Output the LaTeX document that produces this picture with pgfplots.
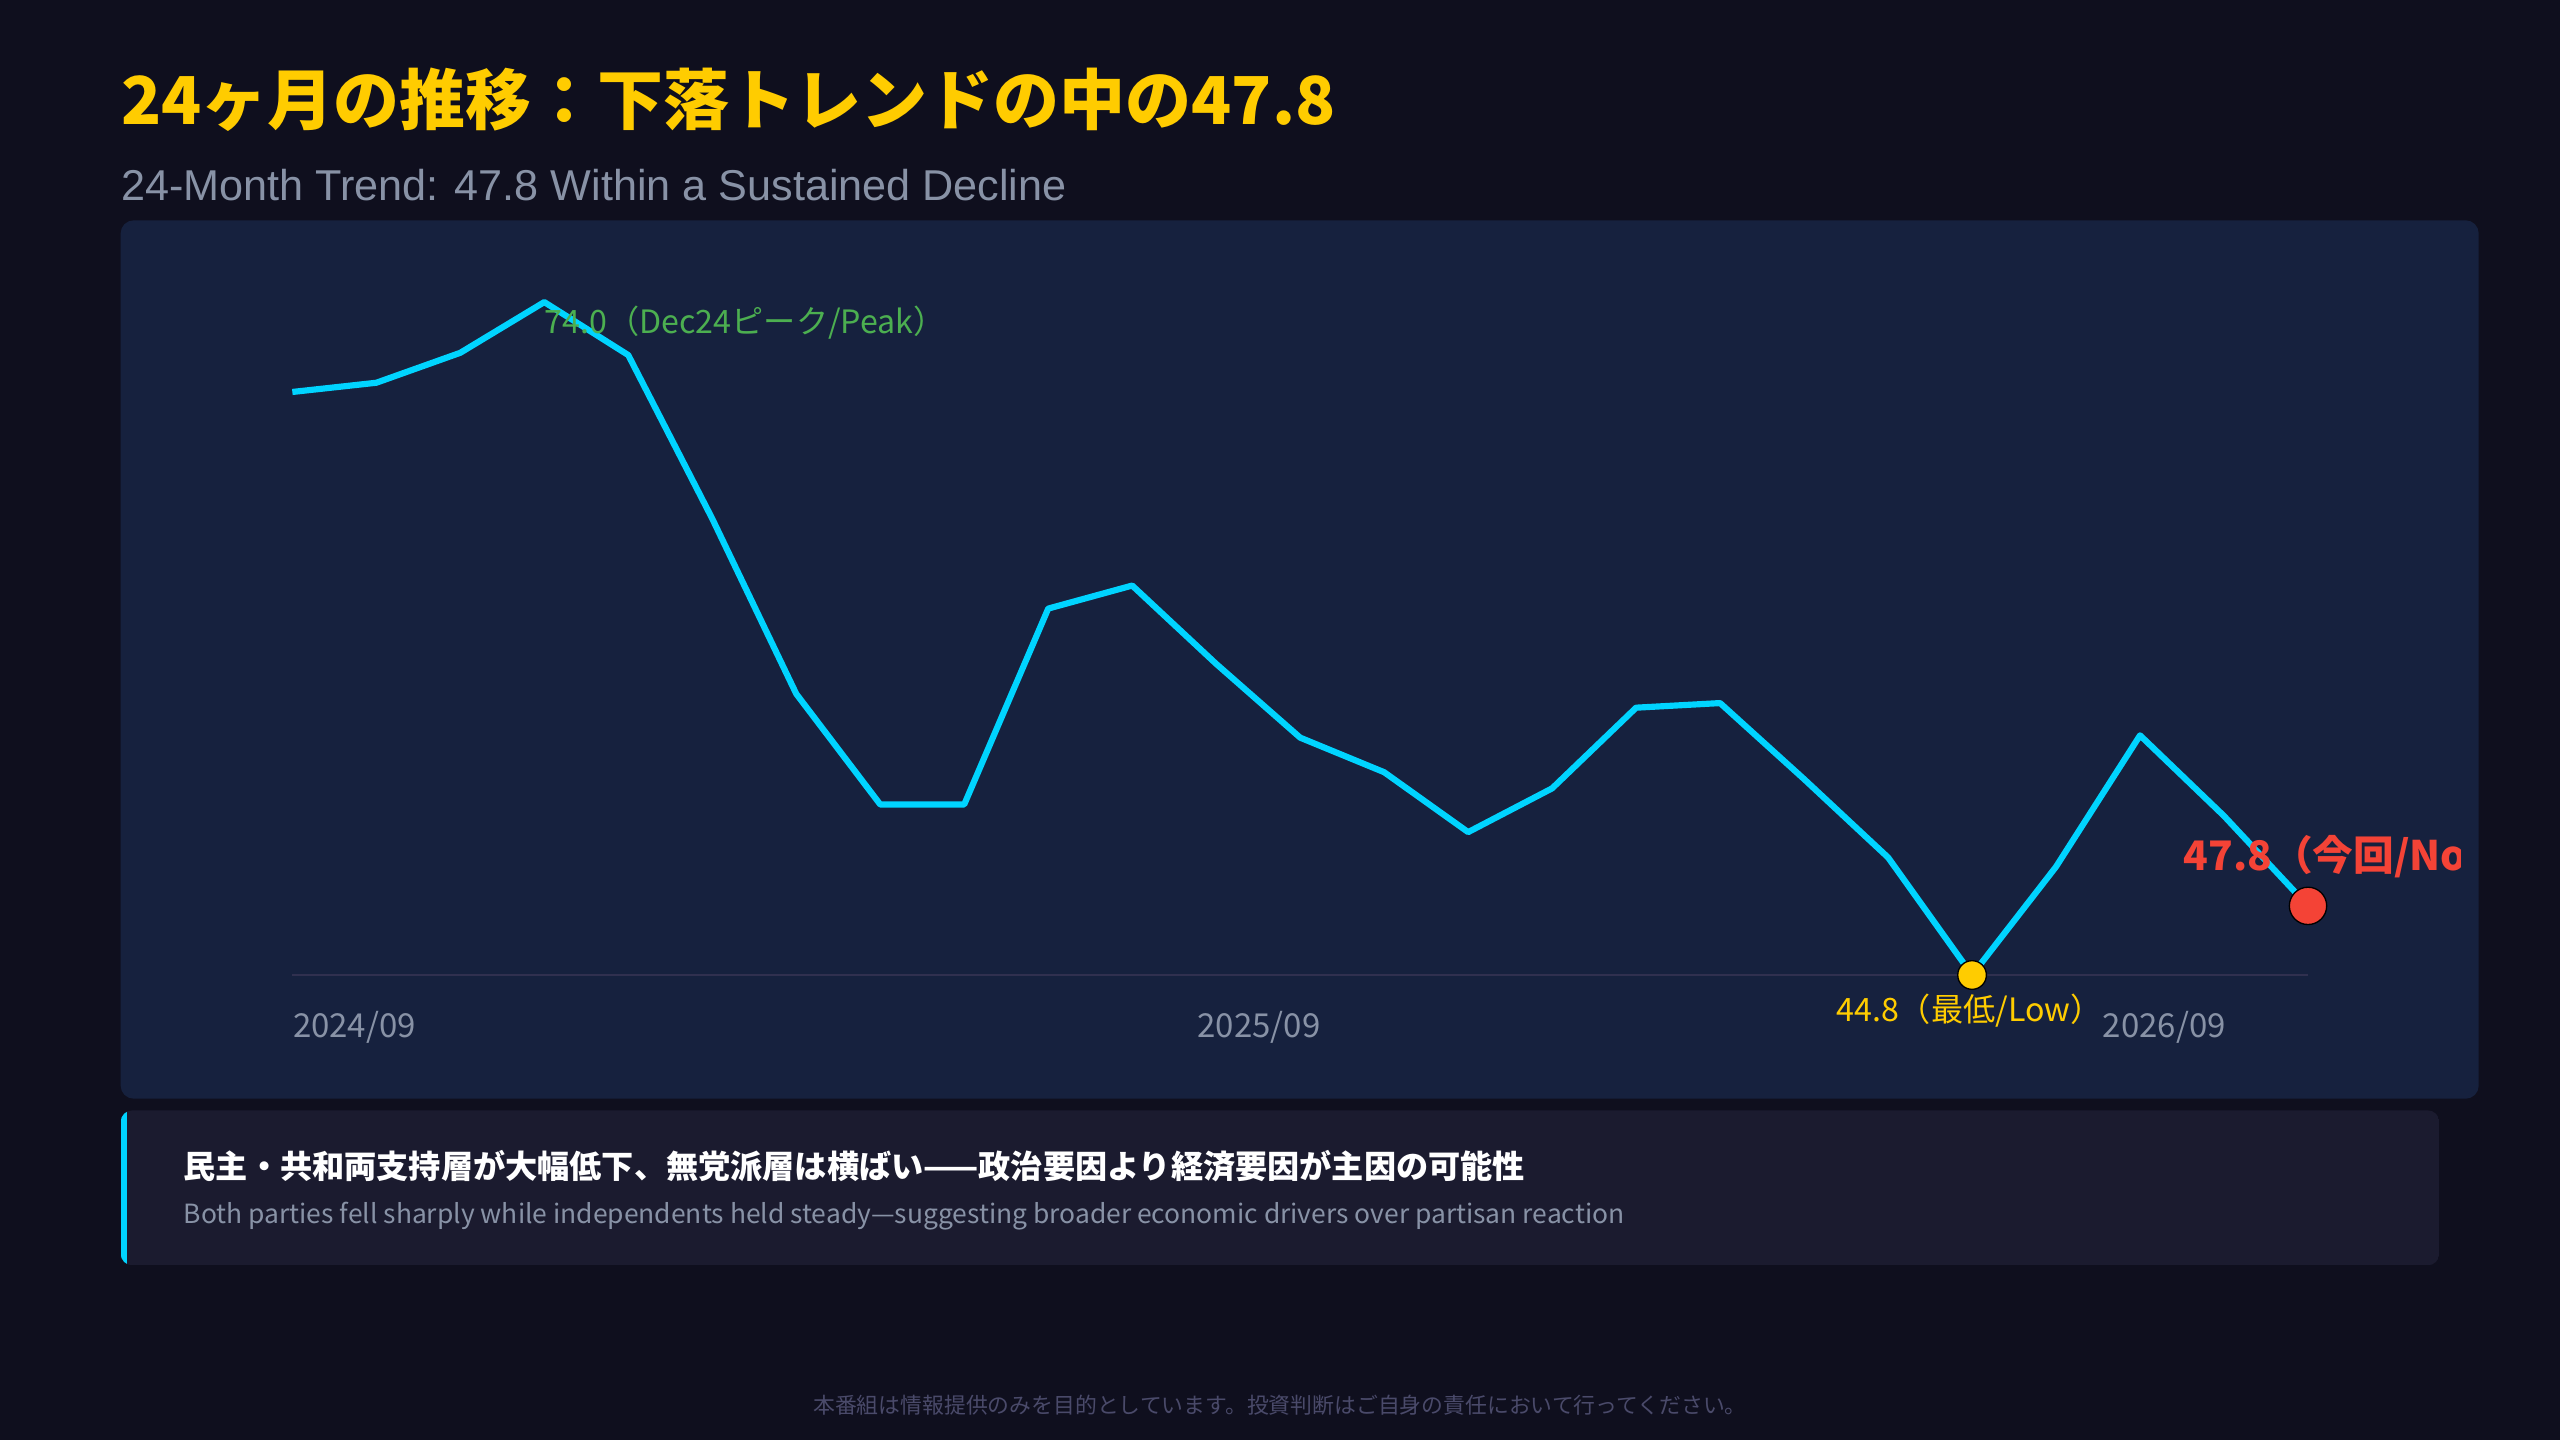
\documentclass[border=0pt]{standalone}
\usepackage{pgfplots}
\pgfplotsset{compat=1.18}
\usepackage{fontspec}
\setmainfont{Noto Sans CJK JP}
\newfontfamily\latinsans{Liberation Sans}
\definecolor{bg}{HTML}{0F0F1E}
\definecolor{panel}{HTML}{16213E}
\definecolor{insight}{HTML}{1B1B2F}
\definecolor{titley}{HTML}{FFCC00}
\definecolor{subgray}{HTML}{8892A6}
\definecolor{linecyan}{HTML}{00D4FF}
\definecolor{peakgreen}{HTML}{4CAF50}
\definecolor{nowred}{HTML}{F44336}
\definecolor{basegray}{HTML}{30304F}
\definecolor{footgray}{HTML}{4A4A6A}
\pgfplotstableread{
x y
0 70.1
1 70.5
2 71.8
3 74.0
4 71.7
5 64.6
6 57.0
7 52.2
8 52.2
9 60.7
10 61.7
11 58.3
12 55.1
13 53.6
14 51.0
15 52.9
16 56.4
17 56.6
18 53.3
19 49.9
20 44.8
21 49.5
22 55.2
23 51.7
24 47.8
}\trend
\begin{document}
\begin{tikzpicture}
\useasboundingbox (0pt,0pt) rectangle (768pt,432pt);
\fill[bg] (0pt,0pt) rectangle (768pt,432pt);
% title
\node[anchor=west, inner sep=0pt, text=titley, font=\fontsize{19.8}{23}\selectfont\bfseries] at (36.2pt,402.1pt) {24ヶ月の推移：下落トレンドの中の47.8};
\node[anchor=west, inner sep=0pt, text=subgray, font=\fontsize{12.95}{15}\selectfont\latinsans] at (36.2pt,376.6pt) {24-Month Trend: 47.8 Within a Sustained Decline};
% panel
\fill[panel, rounded corners=3.9pt] (36.2pt,102.4pt) rectangle (743.6pt,365.9pt);
% insight box
\begin{scope}
\clip[rounded corners=3.5pt] (36.2pt,52.4pt) rectangle (731.8pt,98.9pt);
\fill[insight] (36.2pt,52.4pt) rectangle (731.8pt,98.9pt);
\fill[linecyan] (36.2pt,52.4pt) rectangle (38.2pt,98.9pt);
\end{scope}
\node[anchor=west, inner sep=0pt, text=white, font=\fontsize{9.65}{11}\selectfont\bfseries] at (54.9pt,82.3pt) {民主・共和両支持層が大幅低下、無党派層は横ばい——政治要因より経済要因が主因の可能性};
\node[anchor=west, inner sep=0pt, text=subgray, font=\fontsize{7.93}{9}\selectfont] at (54.9pt,67.2pt) {Both parties fell sharply while independents held steady—suggesting broader economic drivers over partisan reaction};
% footer
\node[anchor=center, inner sep=0pt, text=footgray, font=\fontsize{6.55}{8}\selectfont] at (384pt,10.3pt) {本番組は情報提供のみを目的としています。投資判断はご自身の責任において行ってください。};
\begin{axis}[at={(87.7pt,139.5pt)}, anchor=south west,
  width=604.7pt, height=215.7pt, scale only axis,
  xmin=0, xmax=24, ymin=44.8, ymax=76,
  hide axis, clip=false]
\draw[basegray, line width=0.6pt] (axis cs:0,44.8) -- (axis cs:24,44.8);
\addplot[linecyan, line width=1.85pt, line join=round, no markers] table[x=x,y=y] {\trend};
\addplot[only marks, mark=*, mark size=4.3pt, mark options={solid, fill=titley, draw=none}] coordinates {(20,44.8)};
\addplot[only marks, mark=*, mark size=5.6pt, mark options={solid, fill=nowred, draw=none}] coordinates {(24,47.8)};
\node[anchor=west, inner sep=0pt, text=peakgreen, font=\fontsize{9.65}{11}\selectfont, yshift=-6.3pt] at (axis cs:3,74) {74.0（Dec24ピーク/Peak）};
\node[anchor=center, inner sep=0pt, text=titley, font=\fontsize{9.65}{11}\selectfont, yshift=-10.7pt, xshift=-0.8pt] at (axis cs:20,44.8) {44.8（最低/Low）};
\node[anchor=west, inner sep=0pt, text=subgray, font=\fontsize{9.9}{11}\selectfont, yshift=-15.8pt] at (axis cs:0,44.8) {2024/09};
\node[anchor=west, inner sep=0pt, text=subgray, font=\fontsize{9.9}{11}\selectfont, yshift=-15.8pt] at (axis cs:10.77,44.8) {2025/09};
\node[anchor=west, inner sep=0pt, text=subgray, font=\fontsize{9.9}{11}\selectfont, yshift=-15.8pt] at (axis cs:21.55,44.8) {2026/09};
\coordinate (nowpt) at (axis cs:24,47.8);
\end{axis}
\begin{scope}
\clip (0pt,0pt) rectangle (738pt,432pt);
\node[anchor=west, inner sep=0pt, text=nowred, font=\fontsize{12.2}{14}\selectfont\bfseries] at ([xshift=-37.5pt,yshift=14.7pt]nowpt) {47.8（今回/Now）};
\end{scope}
\end{tikzpicture}
\end{document}
